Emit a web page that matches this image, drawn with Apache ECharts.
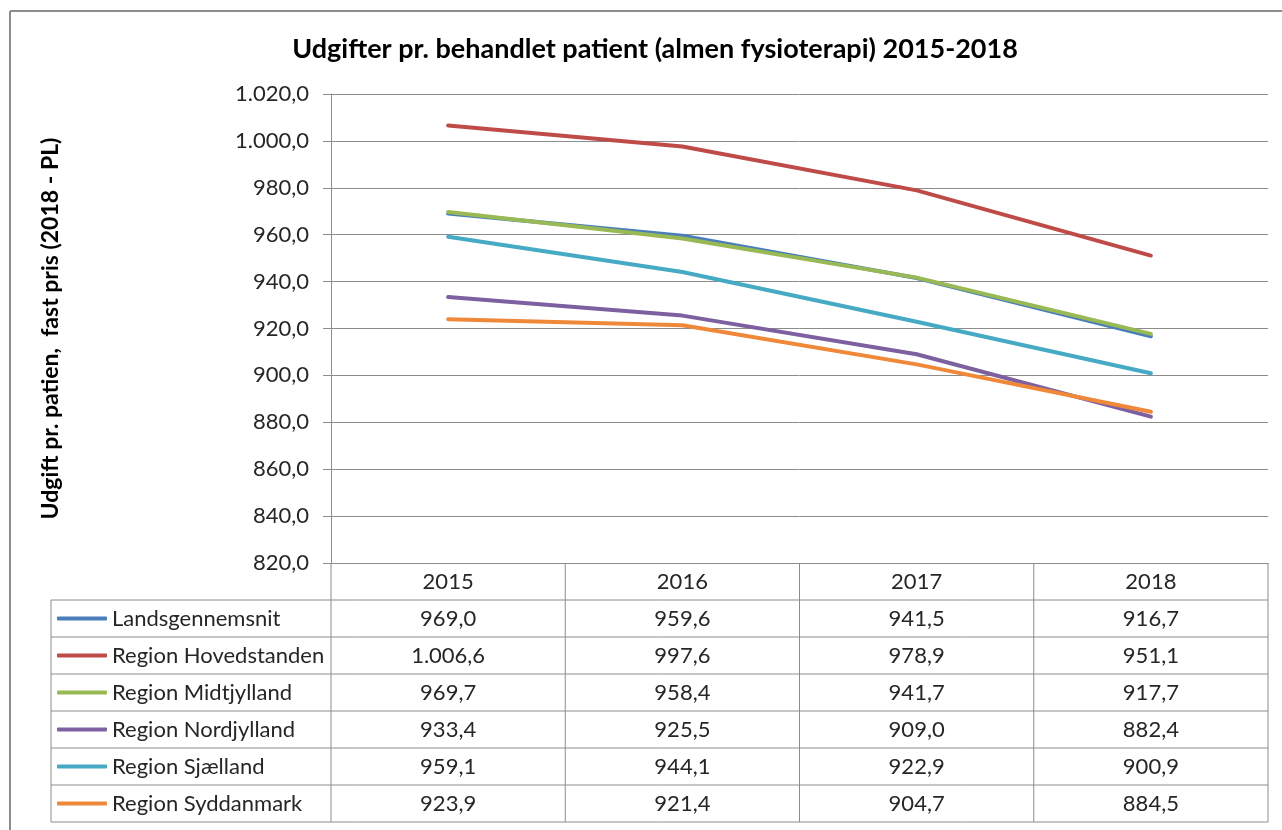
<!DOCTYPE html>
<html>
<head>
<meta charset="utf-8">
<script src="https://cdn.jsdelivr.net/npm/echarts@6/dist/echarts.min.js"></script>
<style>
  html, body { margin: 0; padding: 0; background: #fff; }
  #chart { width: 1282px; height: 830px; }
</style>
</head>
<body>
<div id="chart"></div>
<script>
// data
const years = ["2015", "2016", "2017", "2018"];
const seriesNames = [
  "Landsgennemsnit",
  "Region Hovedstanden",
  "Region Midtjylland",
  "Region Nordjylland",
  "Region Sjælland",
  "Region Syddanmark"
];
const landsgennemsnit = [969.0, 959.6, 941.5, 916.7];
const hovedstanden = [1006.6, 997.6, 978.9, 951.1];
const midtjylland = [969.7, 958.4, 941.7, 917.7];
const nordjylland = [933.4, 925.5, 909.0, 882.4];
const sjaelland = [959.1, 944.1, 922.9, 900.9];
const syddanmark = [923.9, 921.4, 904.7, 884.5];
const colors = ["#4A7EBB", "#BE4B48", "#98B954", "#7D60A0", "#46AAC5", "#F0883A"];

const allValues = [landsgennemsnit, hovedstanden, midtjylland, nordjylland, sjaelland, syddanmark];

const FONT = "Lato";
const TXT = "#262626";
const gridColor = "#8c8c8c";
const gridLeft = 331, gridRight = 1268, gridTop = 94, gridBottom = 563;
const rowH = 37;

// danish number format: 1.006,6
function fmt(v) {
  const s = v.toFixed(1).replace(".", ",");
  const [i, d] = s.split(",");
  return i.replace(/\B(?=(\d{3})+(?!\d))/g, ".") + "," + d;
}

const chart = echarts.init(document.getElementById("chart"));

// table lines + values
const graphics = [];
const line = (x1, y1, x2, y2, w) => graphics.push({
  type: "line", silent: true,
  shape: {x1, y1, x2, y2},
  style: {stroke: gridColor, lineWidth: w || 1}
});
// outer chart border
line(10, 11, 1282, 11, 2);
line(10, 11, 10, 830, 2);

const tableTop = gridBottom + rowH;
const tableBottom = tableTop + rowH * seriesNames.length;
const colW = (gridRight - gridLeft) / years.length;
for (let r = 0; r <= seriesNames.length; r++) {
  line(51, tableTop + r * rowH, gridRight, tableTop + r * rowH);
}
line(51, tableTop, 51, tableBottom);
line(gridLeft, gridBottom, gridLeft, tableBottom);
for (let c = 1; c <= years.length; c++) {
  line(gridLeft + c * colW, gridBottom, gridLeft + c * colW, tableBottom);
}
allValues.forEach((vals, r) => {
  vals.forEach((v, c) => {
    graphics.push({
      type: "text", silent: true,
      x: gridLeft + (c + 0.5) * colW,
      y: tableTop + (r + 0.5) * rowH,
      style: {
        text: fmt(v), fill: TXT,
        font: "22px " + FONT,
        align: "center", verticalAlign: "middle"
      }
    });
  });
});

const option = {
  animation: false,
  textStyle: {fontFamily: FONT},
  title: {
    text: "Udgifter pr. behandlet patient (almen fysioterapi) 2015-2018",
    left: 650, top: 31, textAlign: "center",
    textStyle: {fontFamily: FONT, fontSize: 27, fontWeight: "bold", color: "#000"}
  },
  legend: {
    data: seriesNames,
    orient: "vertical",
    left: 57, top: tableTop,
    height: 400,
    padding: 0,
    icon: "roundRect",
    itemWidth: 50, itemHeight: 4,
    itemGap: 0,
    textStyle: {fontFamily: FONT, fontSize: 22, color: TXT, lineHeight: rowH, height: rowH}
  },
  grid: {
    left: gridLeft, right: 1282 - gridRight, top: gridTop, bottom: 830 - gridBottom,
    containLabel: false
  },
  xAxis: {
    type: "category",
    data: years,
    boundaryGap: true,
    axisLine: {lineStyle: {color: gridColor}},
    axisTick: {show: false},
    axisLabel: {color: TXT, fontFamily: FONT, fontSize: 22, margin: 8}
  },
  yAxis: {
    type: "value",
    min: 820, max: 1020, interval: 20,
    name: "Udgift pr. patien,  fast pris (2018 - PL)",
    nameLocation: "middle",
    nameGap: 269,
    nameTextStyle: {fontFamily: FONT, fontSize: 23, fontWeight: "bold", color: "#000"},
    axisLine: {show: true, lineStyle: {color: gridColor}},
    axisTick: {show: true, length: 8, lineStyle: {color: gridColor}},
    axisLabel: {color: TXT, fontFamily: FONT, fontSize: 22, margin: 22, formatter: fmt},
    splitLine: {lineStyle: {color: gridColor}}
  },
  series: seriesNames.map((name, i) => ({
    name,
    type: "line",
    data: allValues[i],
    symbol: "none",
    color: colors[i],
    lineStyle: {width: 4, color: colors[i], cap: "round", join: "round"}
  })),
  graphic: graphics
};

chart.setOption(option);
</script>
</body>
</html>
